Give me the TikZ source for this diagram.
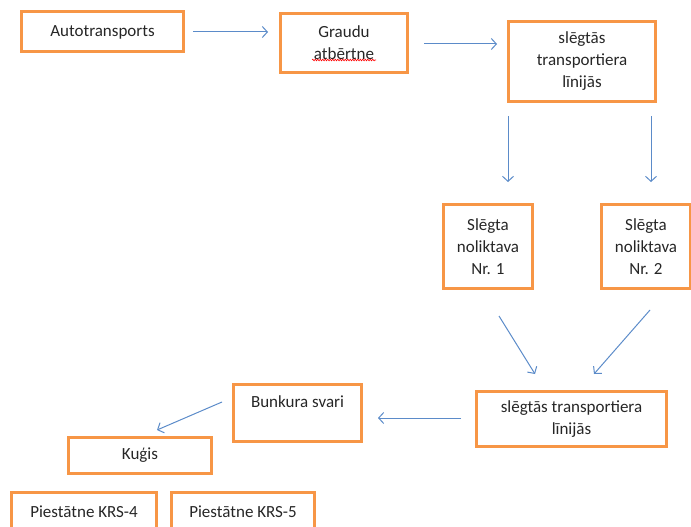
\documentclass[tikz,border=0pt]{standalone}
\usepackage{fontspec}
\setmainfont{Carlito}
\usetikzlibrary{arrows.meta,decorations.pathmorphing}

\definecolor{boxorange}{HTML}{F79646}
\definecolor{arrowblue}{HTML}{5B8BC9}

\tikzset{
  stage/.style={draw=boxorange, line width=3pt, align=center, inner sep=2pt,
    font=\fontsize{17}{22}\selectfont, text=black!85},
  flow/.style={draw=arrowblue, line width=1pt, -{Straight Barb[length=5pt,width=11pt]}}
}

\begin{document}
\begin{tikzpicture}[x=1pt,y=-1pt]
    \useasboundingbox (0,0) rectangle (691,527);
    \clip (0,0) rectangle (691,527);

    \node[stage, minimum width=162, minimum height=40] (auto) at (102.5,32) {Autotransports};
    \node[stage, minimum width=127, minimum height=59] (graudu) at (344,43) {Graudu\\atbērtne};
    \node[stage, minimum width=147, minimum height=80] (slegtas) at (582,61.5) {slēgtās\\transportiera\\līnijās};
    \node[stage, minimum width=89, minimum height=84] (nol1) at (488,246.5) {Slēgta\\noliktava\\Nr. 1};
    \node[stage, minimum width=89, minimum height=84] (nol2) at (646,246.5) {Slēgta\\noliktava\\Nr. 2};
    \node[stage, minimum width=190, minimum height=55] (lin2) at (571.5,419) {slēgtās transportiera\\līnijās};
    \node[stage, minimum width=128, minimum height=57, text depth=22pt] (bunk) at (297.5,413) {Bunkura svari};
    \node[stage, minimum width=143, minimum height=36] (kugis) at (140,455.5) {Kuģis};
    \node[stage, minimum width=145, minimum height=40] (krs4) at (84,512) {Piestātne KRS-4};
    \node[stage, minimum width=143, minimum height=40] (krs5) at (243,512) {Piestātne KRS-5};

    % spell-check underline
    \draw[red, line width=0.6pt, decorate, decoration={snake, amplitude=0.8pt, segment length=2.5pt}]
      ([shift={(-32,17)}]graudu.center) -- ([shift={(32,17)}]graudu.center);

    \draw[flow, shorten <=8pt, shorten >=11pt] (auto.east) -- (auto.east -| graudu.west);
    \draw[flow, shorten <=15pt, shorten >=10pt] ([yshift=-1]graudu.east) -- ([yshift=-1]graudu.east -| slegtas.west);
    \draw[flow, shorten <=13pt, shorten >=21pt] ([xshift=1]slegtas.south west) -- ([xshift=1]slegtas.south west |- nol1.north);
    \draw[flow, shorten <=13pt, shorten >=21pt] ([xshift=-6]slegtas.south east) -- ([xshift=-6]slegtas.south east |- nol2.north);
    \draw[flow] ([shift={(11,26)}]nol1.south) -- ([shift={(-36.5,-16)}]lin2.north);
    \draw[flow] ([shift={(4,20)}]nol2.south) -- ([shift={(22.5,-16)}]lin2.north);
    \draw[flow, shorten <=14pt, shorten >=15pt] ([yshift=1]lin2.west) -- ([yshift=1]lin2.west -| bunk.east);
    \draw[flow] ([shift={(-10,-11)}]bunk.west) -- ([shift={(17,-6)}]kugis.north);
\end{tikzpicture}
\end{document}
